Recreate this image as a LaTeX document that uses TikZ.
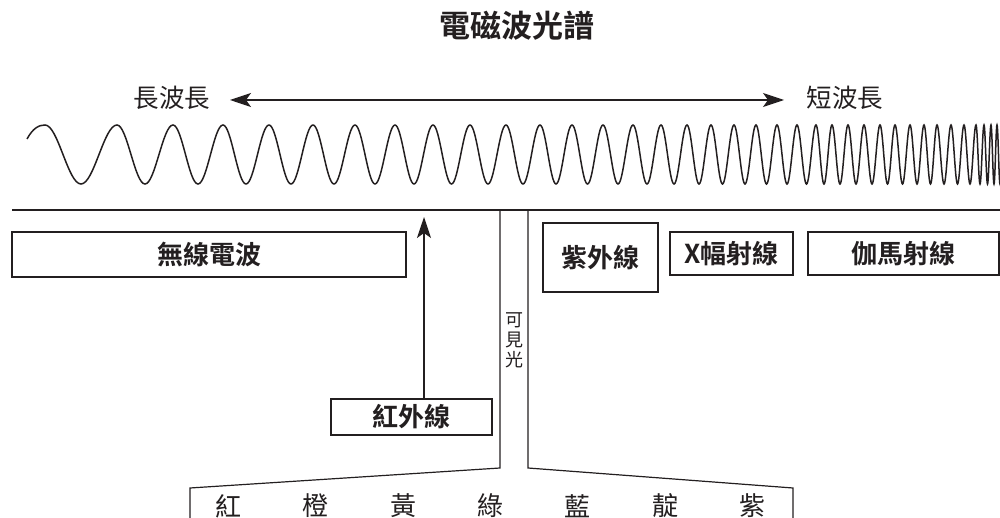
\documentclass[tikz,border=0pt]{standalone}
\usepackage{fontspec}
\setmainfont{Noto Sans CJK TC}[BoldFont={Noto Sans CJK TC Bold}]
\usetikzlibrary{arrows.meta}
\definecolor{ink}{RGB}{35,31,32}
\tikzset{
  ttl/.style={font=\bfseries\fontsize{31}{31}\selectfont, text=ink, inner sep=0pt},
  lbl/.style={font=\fontsize{25.5}{26}\selectfont, text=ink, inner sep=0pt},
  bandlbl/.style={font=\fontsize{26}{26}\selectfont, text=ink, inner sep=0pt},
  vislbl/.style={font=\fontsize{18}{20}\selectfont, text=ink, inner sep=0pt, align=center},
  specbox/.style={draw=ink, line width=1.2pt, font=\bfseries\fontsize{26}{26}\selectfont, text=ink, inner sep=0pt},
  thinline/.style={draw=ink, line width=1.2pt},
  thickline/.style={draw=ink, line width=2.8pt},
  waveline/.style={draw=ink, line width=1.5pt},
}
\begin{document}
\begin{tikzpicture}[x=1pt,y=-1pt]
\useasboundingbox (0,0) rectangle (1000,518);
% title
\node[ttl] (title) at (517,26) {電磁波光譜};
% wavelength arrow
\node[lbl] (long) at (172,98) {長波長};
\node[lbl] (short) at (845,98) {短波長};
\coordinate (la) at (230,100);
\coordinate (ra) at (784,100);
\draw[thinline, {Stealth[length=21pt,width=14pt,inset=5pt]}-{Stealth[length=21pt,width=14pt,inset=5pt]}] (la) -- (ra);
% wave
\begin{scope}
\clip (0,110) rectangle (1000,200);
\draw[waveline] (27,139) .. controls (33,128) and (39,125) .. (45,125)
  \foreach \a/\b in {45/117,117/173,173/223,223/269,269/313,313/355,355/395,395/433,433/470,470/506,506/540,540/572,572/603,603/633,633/661,661/687,687/711,711/734,734/756,756/777,777/797,797/816,816/832,832/848,848/864,864/880,880/895,895/910,910/924,924/937,937/951,951/964,964/976,976/984,984/991,991/997,997/1003}
  { cos ({(3*\a+\b)/4},154.5) sin ({(\a+\b)/2},184) cos ({(\a+3*\b)/4},154.5) sin (\b,125) };
\end{scope}
% main line
\coordinate (hl) at (12,210);
\coordinate (hr) at (1000,210);
\draw[thickline] (hl) -- (hr);
% boxes
\node[specbox, minimum width=394pt, minimum height=45pt] (radio) at (209,254.5) {無線電波};
\node[specbox, minimum width=161pt, minimum height=36pt] (ir) at (411.5,417) {紅外線};
\node[specbox, minimum width=115pt, minimum height=69pt] (uv) at (600.5,257.5) {紫外線};
\node[specbox, minimum width=123pt, minimum height=43pt] (xray) at (731.5,253.5) {X幅射線};
\node[specbox, minimum width=191pt, minimum height=43pt] (gamma) at (903.5,253.5) {伽馬射線};
% infrared arrow
\coordinate (irtip) at (424,217);
\draw[thinline, -{Stealth[length=21pt,width=14pt,inset=5pt]}] (irtip |- ir.north) -- (irtip);
% visible band lines
\coordinate (v1t) at (500,210);
\coordinate (v1b) at (500,468);
\coordinate (bl) at (190,488);
\coordinate (bl2) at (190,522);
\coordinate (v2t) at (528,210);
\coordinate (v2b) at (528,468);
\coordinate (br) at (793,488);
\coordinate (br2) at (793,522);
\draw[thinline] (v1t) -- (v1b) -- (bl) -- (bl2);
\draw[thinline] (v2t) -- (v2b) -- (br) -- (br2);
\node[vislbl] (vis) at (514,340) {可\\見\\光};
% colours
\node[bandlbl] (c1) at (228,506) {紅};
\node[bandlbl] (c2) at (315,506) {橙};
\node[bandlbl] (c3) at (403,506) {黃};
\node[bandlbl] (c4) at (490,506) {綠};
\node[bandlbl] (c5) at (577,506) {藍};
\node[bandlbl] (c6) at (665,506) {靛};
\node[bandlbl] (c7) at (752,506) {紫};
\end{tikzpicture}
\end{document}
